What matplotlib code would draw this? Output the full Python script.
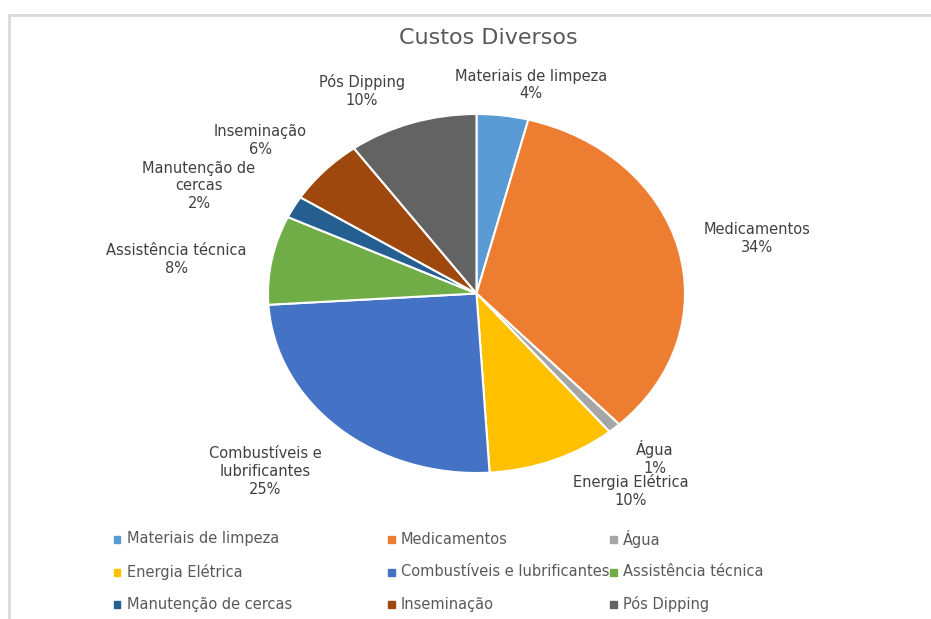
import matplotlib.pyplot as plt
from matplotlib.lines import Line2D
from matplotlib.patches import Rectangle

categories = ["Materiais de limpeza", "Medicamentos", "Água", "Energia Elétrica",
              "Combustíveis e lubrificantes", "Assistência técnica",
              "Manutenção de cercas", "Inseminação", "Pós Dipping"]
values = [4, 34, 1, 10, 25, 8, 2, 6, 10]
label_text = ["Materiais de limpeza", "Medicamentos", "Água", "Energia Elétrica",
              "Combustíveis e\nlubrificantes", "Assistência técnica",
              "Manutenção de\ncercas", "Inseminação", "Pós Dipping"]
colors = ["#5B9BD5", "#ED7D31", "#A5A5A5", "#FFC000", "#4472C4",
          "#70AD47", "#255E91", "#9E480E", "#636363"]

# label centres in pixels (x, y from top)
label_px = [(531, 85), (757, 238), (655, 458), (631, 491), (265, 472),
            (176, 260), (199, 186), (260, 140), (362, 91)]

W, H = 931, 619
plt.rcParams['font.family'] = ['DejaVu Sans']
fig = plt.figure(figsize=(W / 100, H / 100), dpi=100)

# frame
fig.add_artist(Line2D([9 / W, 1], [1 - 15 / H] * 2, color="#d9d9d9", lw=2))
fig.add_artist(Line2D([9 / W] * 2, [0, 1 - 15 / H], color="#d9d9d9", lw=2))

# pie (stretched like the reference)
x0, x1, y0, y1 = 268, 685, 114, 473
ax = fig.add_axes([x0 / W, 1 - y1 / H, (x1 - x0) / W, (y1 - y0) / H])
ax.pie(values, colors=colors, startangle=90, counterclock=False,
       wedgeprops=dict(edgecolor="white", linewidth=1.5))
ax.set_aspect("auto")
ax.set_xlim(-1, 1)
ax.set_ylim(-1, 1)
ax.axis("off")

total = sum(values)
for txt, v, (px, py) in zip(label_text, values, label_px):
    fig.text(px / W, 1 - py / H, f"{txt}\n{round(100 * v / total)}%",
             ha="center", va="center", fontsize=10.5, color="#404040",
             linespacing=1.25)

fig.text(488 / W, 1 - 38 / H, "Custos Diversos", ha="center", va="center",
         fontsize=16, color="#595959")

# legend: 3 columns, row-major order
col_x = [117, 391, 613]
row_y = [539, 572, 604]
sq = 7
for i, name in enumerate(categories):
    cx, cy = col_x[i % 3], row_y[i // 3]
    fig.add_artist(Rectangle(((cx - sq / 2) / W, 1 - (cy + sq / 2) / H),
                             sq / W, sq / H, color=colors[i]))
    fig.text((cx + 10) / W, 1 - cy / H, name, ha="left", va="center",
             fontsize=10.5, color="#595959")

fig.savefig("out.png", dpi=100)
